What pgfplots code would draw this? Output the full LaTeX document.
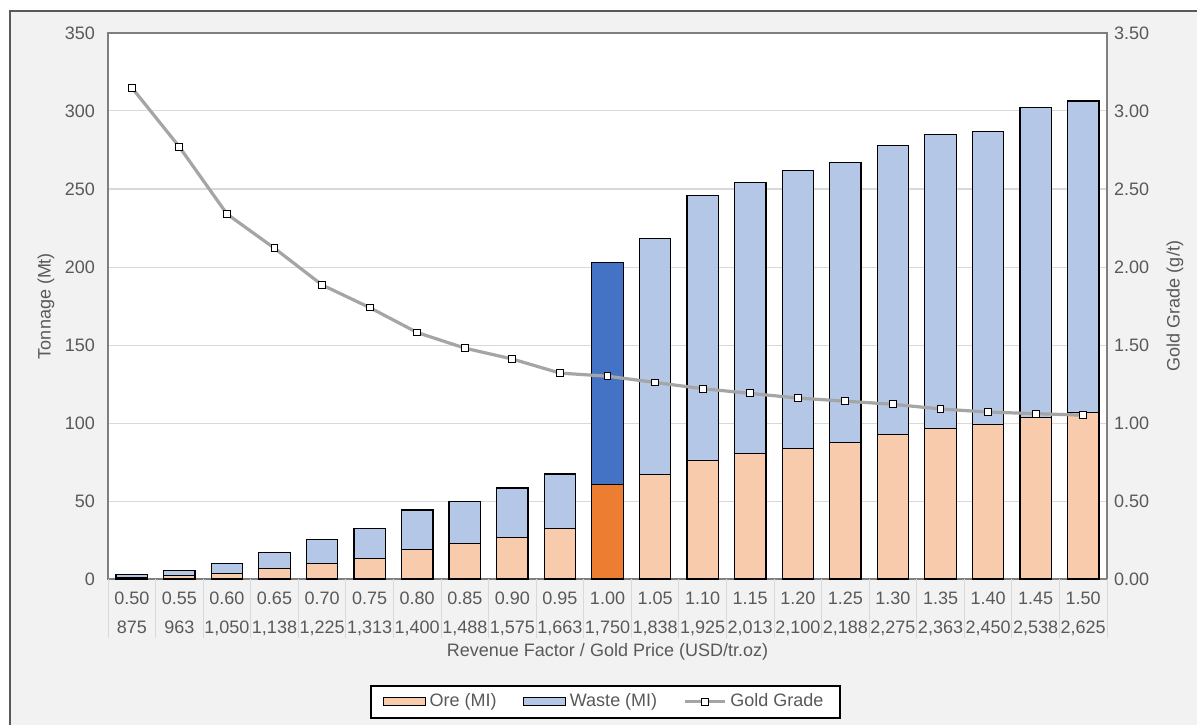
\documentclass[border=0pt]{standalone}
\usepackage{fontspec}
\setmainfont{Liberation Sans}
\usepackage{pgfplots}
\usepackage{pgfplotstable}
\pgfplotsset{compat=1.18}

\definecolor{orefill}{HTML}{F8CBAD}
\definecolor{wastefill}{HTML}{B4C7E7}
\definecolor{orehi}{HTML}{ED7D31}
\definecolor{wastehi}{HTML}{4472C4}
\definecolor{gradeline}{HTML}{A5A5A5}
\definecolor{txt}{HTML}{595959}
\definecolor{gridc}{HTML}{D9D9D9}
\definecolor{framec}{HTML}{7F7F7F}
\definecolor{bgc}{HTML}{F2F2F2}

% idx = revenue factor 0.50 ... 1.50
\pgfplotstableread{
idx ore waste grade
0   1.0   2.0  3.15
1   2.4   2.9  2.77
2   3.6   6.4  2.34
3   6.6  10.5  2.12
4  10.0  15.2  1.885
5  13.3  19.0  1.74
6  18.8  25.4  1.58
7  22.6  27.2  1.48
8  26.7  31.6  1.41
9  32.2  35.1  1.32
10 60.7 142.3  1.30
11 67.1 151.1  1.26
12 76.1 169.9  1.22
13 80.6 173.4  1.19
14 83.8 178.2  1.16
15 87.6 179.4  1.14
16 92.5 185.3  1.12
17 96.6 188.2  1.09
18 98.9 188.1  1.07
19 103.6 198.7 1.06
20 106.8 199.6 1.05
}\data

\pgfplotsset{
  base/.style={
    scale only axis, width=499.5pt, height=273pt,
    at={(54pt,72.5pt)}, anchor=south west,
    xmin=-0.5, xmax=20.5,
    font=\fontsize{9}{11}\selectfont, text=txt,
    /pgf/number format/assume math mode=true,
  },
  boxlegend/.style={legend image code/.code={\draw[##1] (0pt,-2pt) rectangle (21pt,2pt);}},
  linelegend/.style={legend image code/.code={\draw[mark repeat=2, mark phase=2, ##1] plot coordinates {(0pt,0pt) (10pt,0pt) (20pt,0pt)};}},
}

\begin{document}
\begin{tikzpicture}
\useasboundingbox (0,0) rectangle (598.5pt,362pt);
\clip (0,0) rectangle (598.5pt,362pt);
\fill[bgc] (5pt,-10pt) rectangle (610pt,356.5pt);
\draw[txt, line width=1pt] (5pt,-10pt) rectangle (610pt,356.5pt);

\begin{axis}[base,
  axis background/.style={fill=white},
  ymin=0, ymax=350, ytick={0,50,...,350},
  ymajorgrids, grid style={draw=gridc, line width=0.5pt},
  axis line style={draw=framec, line width=0.75pt},
  ytick style={draw=none},
  yticklabel style={xshift=-3pt},
  ybar stacked, bar width=0.66,
  xtick={0,...,20}, xtick pos=bottom, major tick length=0pt,
  xticklabels={{0.50\\875},{0.55\\963},{0.60\\1,050},{0.65\\1,138},{0.70\\1,225},
    {0.75\\1,313},{0.80\\1,400},{0.85\\1,488},{0.90\\1,575},{0.95\\1,663},
    {1.00\\1,750},{1.05\\1,838},{1.10\\1,925},{1.15\\2,013},{1.20\\2,100},
    {1.25\\2,188},{1.30\\2,275},{1.35\\2,363},{1.40\\2,450},{1.45\\2,538},{1.50\\2,625}},
  xticklabel style={align=center, font=\fontsize{9}{14.5}\selectfont, yshift=-3pt},
  extra x ticks={-0.5,0.5,...,20.5}, extra x tick labels={},
  extra x tick style={tick align=outside, major tick length=29.5pt,
    tick style={draw=gridc, line width=0.5pt}, grid=none},
  xlabel={Revenue Factor / Gold Price (USD/tr.oz)},
  xlabel style={at={(axis description cs:0.5,-0.1337)}, anchor=center},
  ylabel={Tonnage (Mt)},
  ylabel style={at={(axis description cs:-0.062,0.5)}, anchor=center},
]
\addplot[fill=orefill, draw=black, line width=0.6pt] table[x=idx, y=ore] {\data};
\addplot[fill=wastefill, draw=black, line width=0.6pt] table[x=idx, y=waste] {\data};
\end{axis}

% highlighted base case (revenue factor 1.00)
\begin{axis}[base, hide axis, ymin=0, ymax=350, ybar stacked, bar width=0.66]
\addplot[fill=orehi, draw=black, line width=0.6pt] coordinates {(10,60.7)};
\addplot[fill=wastehi, draw=black, line width=0.6pt] coordinates {(10,142.3)};
\end{axis}

\begin{axis}[base,
  ymin=0, ymax=3.5, ytick={0,0.5,...,3.5},
  axis x line=none, axis y line*=right,
  y axis line style={draw=none},
  ytick style={draw=none},
  yticklabel style={/pgf/number format/.cd, fixed, fixed zerofill, precision=2},
  ylabel={Gold Grade (g/t)},
  ylabel style={at={(axis description cs:1.068,0.5)}, anchor=center},
  legend style={at={(0.4975,-0.225)}, anchor=center, draw=black, line width=1pt,
    fill=white, font=\fontsize{9}{11}\selectfont, text=txt, inner xsep=6pt, inner ysep=2pt,
    /tikz/every even column/.append style={column sep=11pt}},
  legend columns=3,
]
\addlegendimage{boxlegend, fill=orefill, draw=black, line width=0.6pt}
\addlegendimage{boxlegend, fill=wastefill, draw=black, line width=0.6pt}
\addplot[linelegend, color=gradeline, line width=1.6pt, mark=square*,
  mark options={fill=white, draw=black, line width=0.5pt}, mark size=1.7pt]
  table[x=idx, y=grade] {\data};
\legend{Ore (MI), Waste (MI), Gold Grade}
\end{axis}
\end{tikzpicture}
\end{document}
